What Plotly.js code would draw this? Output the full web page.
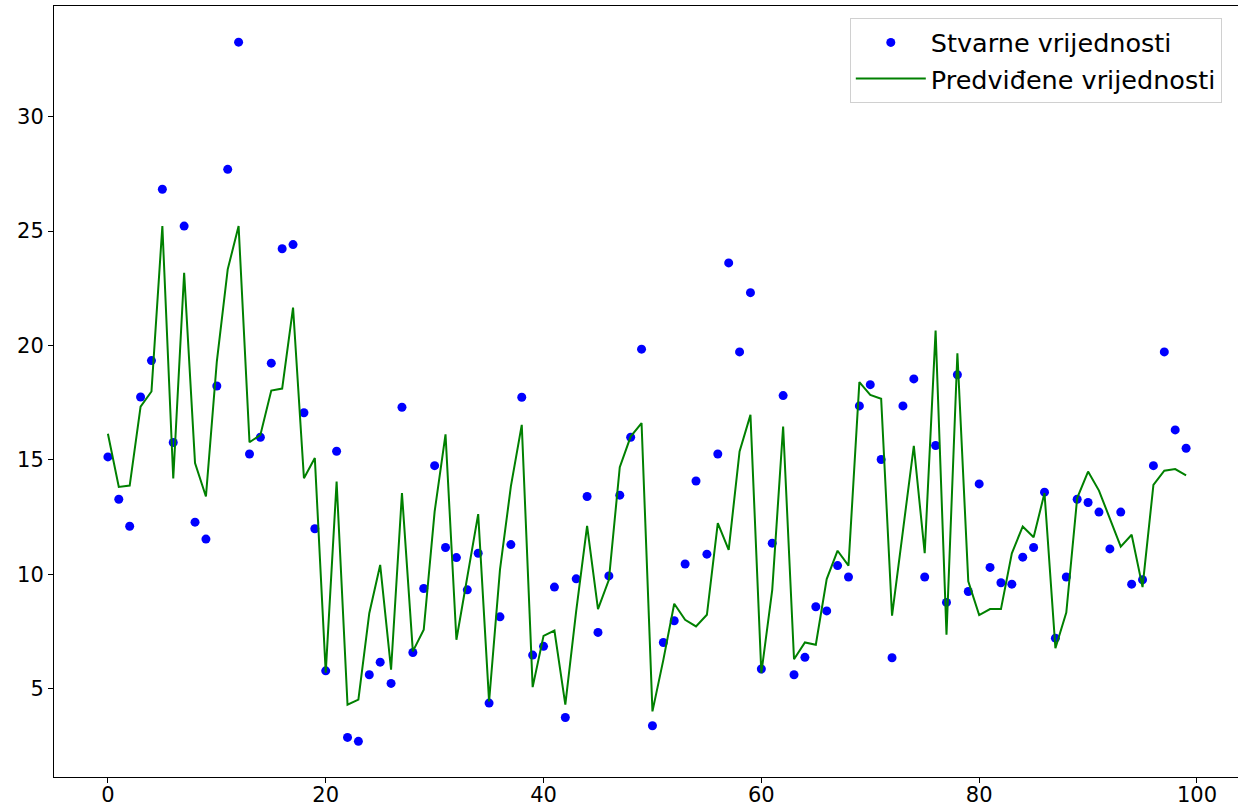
<!DOCTYPE html>
<html>
<head>
<meta charset="utf-8">
<script src="https://cdn.plot.ly/plotly-3.0.1.min.js"></script>
<style>
html,body{margin:0;padding:0;overflow:hidden;background:#fff;}
#chart{width:1241px;height:811px;}
</style>
</head>
<body>
<div id="chart"></div>
<script>
var xIndex = [];
for (var k = 0; k < 100; k++) xIndex.push(k);

var actualValues = [
15.13,13.28,12.10,17.75,19.34,26.83,15.76,25.22,12.28,11.54,
18.23,27.70,33.26,15.26,15.99,19.23,24.23,24.41,17.06,11.99,
5.78,15.38,2.87,2.70,5.61,6.16,5.23,17.30,6.58,9.38,
14.75,11.17,10.73,9.32,10.92,4.37,8.14,11.30,17.74,6.47,
6.85,9.44,3.74,9.80,13.40,7.46,9.93,13.46,15.99,19.84,
3.38,7.02,7.97,10.45,14.08,10.88,15.26,23.61,19.72,22.31,
5.86,11.36,17.81,5.61,6.37,8.58,8.40,10.38,9.88,17.36,
18.29,15.02,6.35,17.36,18.54,9.88,15.63,8.77,18.72,9.25,
13.95,10.30,9.63,9.57,10.75,11.17,13.59,7.21,9.88,13.28,
13.14,12.72,11.11,12.72,9.57,9.76,14.75,19.72,16.31,15.51
];

var predictedValues = [
16.14,13.82,13.88,17.33,17.99,25.22,14.19,23.18,14.86,13.40,
19.30,23.33,25.22,15.77,16.09,18.03,18.12,21.66,14.20,15.08,
5.70,14.05,4.30,4.52,8.30,10.41,5.83,13.55,6.63,7.58,
12.74,16.12,7.14,9.90,12.63,4.44,10.20,13.84,16.53,5.07,
7.31,7.54,4.30,8.40,12.12,8.48,9.76,14.68,16.02,16.61,
4.01,6.26,8.71,8.01,7.72,8.23,12.24,11.07,15.37,16.97,
5.68,9.32,16.46,6.29,7.02,6.92,9.79,11.03,10.38,18.40,
17.84,17.67,8.19,11.90,15.61,10.92,20.65,7.36,19.66,9.69,
8.22,8.48,8.48,10.92,12.09,11.62,13.55,6.77,8.33,13.33,
14.49,13.66,12.45,11.21,11.73,9.44,13.91,14.53,14.60,14.32
];

var seriesNames = ["Stvarne vrijednosti", "Predviđene vrijednosti"];
var xTicks = [0, 20, 40, 60, 80, 100];
var yTicks = [5, 10, 15, 20, 25, 30];

var font = "DejaVu Sans, sans-serif";

var traces = [
  {
    x: xIndex, y: actualValues, type: "scatter", mode: "markers",
    name: seriesNames[0], legendgroup: "a",
    marker: {color: "#0000ff", size: 9, line: {width: 0}}
  },
  {
    x: xIndex, y: predictedValues, type: "scatter", mode: "lines",
    name: seriesNames[1], legendgroup: "b",
    line: {color: "#008000", width: 2}
  }
];

var axisCommon = {
  showgrid: false, zeroline: false,
  showline: true, mirror: true, linecolor: "#000", linewidth: 1,
  ticks: "outside", ticklen: 5, tickwidth: 1, tickcolor: "#000",
  tickfont: {family: font, size: 21, color: "#000"},
  tickmode: "array"
};

var layout = {
  width: 1241, height: 811,
  margin: {l: 54, r: 1, t: 6, b: 34, autoexpand: false},
  paper_bgcolor: "#fff", plot_bgcolor: "#fff",
  showlegend: true,
  legend: {
    x: 0.671, y: 0.984, xanchor: "left", yanchor: "top",
    bgcolor: "rgba(255,255,255,0.8)", bordercolor: "#d0d0d0", borderwidth: 1,
    font: {family: font, size: 25.5, color: "#000"},
    traceorder: "grouped", tracegroupgap: 0, itemwidth: 70
  },
  xaxis: Object.assign({}, axisCommon, {
    range: [-4.95, 103.95], tickvals: xTicks, ticktext: xTicks.map(String),
    ticklabelstandoff: -6
  }),
  yaxis: Object.assign({}, axisCommon, {
    range: [1.14, 34.84], tickvals: yTicks, ticktext: yTicks.map(String)
  })
};

Plotly.newPlot("chart", traces, layout, {displayModeBar: false, staticPlot: true});
</script>
</body>
</html>
